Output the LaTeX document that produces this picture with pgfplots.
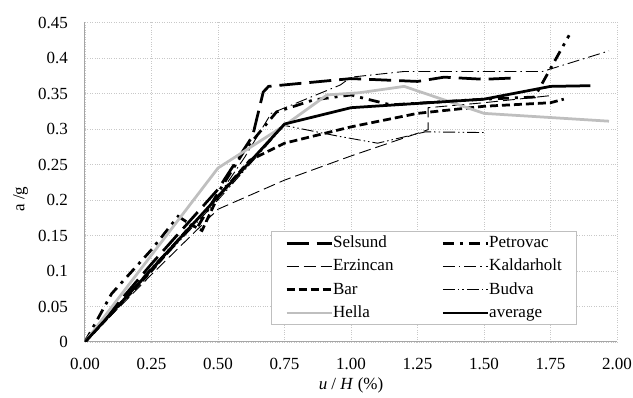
\documentclass[border=0pt]{standalone}
\usepackage{fontspec}
\setmainfont{Liberation Serif}
\usepackage{pgfplots}
\pgfplotsset{compat=1.18}
\definecolor{hellagray}{RGB}{191,191,191}
\definecolor{gridgray}{RGB}{200,200,200}
\definecolor{axisgray}{RGB}{166,166,166}
\begin{document}
\fontsize{17}{20}\selectfont
\begin{tikzpicture}
\begin{axis}[
  at={(0pt,0pt)}, anchor=south west,
  scale only axis, width=532pt, height=319.5pt,
  xmin=0, xmax=2, ymin=0, ymax=0.45,
  axis x line*=bottom, axis y line*=left,
  axis line style={-, draw=axisgray, line width=1pt},
  xtick={0,0.25,0.5,0.75,1,1.25,1.5,1.75,2},
  xticklabels={0.00,0.25,0.50,0.75,1.00,1.25,1.50,1.75,2.00},
  ytick={0,0.05,0.1,0.15,0.2,0.25,0.3,0.35,0.4,0.45},
  yticklabels={0,0.05,0.1,0.15,0.2,0.25,0.3,0.35,0.4,0.45},
  major tick length=0pt, tick style={draw=none},
  tick label style={inner sep=0pt},
  yticklabel style={anchor=east, xshift=-17pt},
  xticklabel style={anchor=north, yshift=-16pt},
  grid=major,
  major grid style={dotted, draw=gridgray, line width=0.8pt},
  xlabel={\textit{u} / \textit{H} (\%)},
  ylabel={a /g},
  xlabel style={at={(axis description cs:0.5,0)}, anchor=center, yshift=-43.5pt, inner sep=0pt},
  ylabel style={at={(axis description cs:-0.121,0.447)}, anchor=center, inner sep=0pt},
  legend columns=2,
  legend cell align=left,
  legend image code/.code={\draw[#1] (0pt,0pt) -- (45pt,0pt);},
  legend style={at={(axis cs:0.699,0.024)}, anchor=south west,
    draw=hellagray, line width=0.8pt, fill=white,
    inner xsep=14pt, inner ysep=3pt, row sep=6.3pt,
    nodes={inner sep=0pt, text height=13pt, text depth=4pt},
    /tikz/every even column/.append style={column sep=48pt}},
]
% Selsund
\addplot[black, line width=2.75pt, dash pattern=on 22pt off 8pt] coordinates {
(0,0) (0.25,0.11) (0.5,0.215) (0.63,0.29) (0.67,0.352) (0.69,0.36) (1.0,0.371) (1.25,0.367) (1.35,0.373) (1.5,0.37) (1.62,0.372)};
\addlegendentry{Selsund}
% Petrovac
\addplot[black, line width=2.75pt, dash pattern=on 11pt off 6pt on 3pt off 6pt] coordinates {
(0,0) (0.1,0.068) (0.25,0.13) (0.35,0.177) (0.42,0.16) (0.5,0.21) (0.6,0.27) (0.72,0.324) (0.86,0.341) (1.0,0.348) (1.05,0.343) (1.15,0.334) (1.5,0.342) (1.69,0.345) (1.82,0.432)};
\addlegendentry{Petrovac}
% Erzincan
\addplot[black, line width=0.9pt, dash pattern=on 12pt off 5pt] coordinates {
(0,0) (0.25,0.095) (0.5,0.187) (0.75,0.228) (1.0,0.262) (1.29,0.299) (1.29,0.33) (1.5,0.337) (1.75,0.347)};
\addlegendentry{Erzincan}
% Kaldarholt
\addplot[black, line width=0.9pt, dash pattern=on 12pt off 4pt on 1.5pt off 4pt] coordinates {
(0,0) (0.25,0.105) (0.5,0.205) (0.6,0.26) (0.7,0.322) (0.96,0.362) (1.0,0.373) (1.2,0.381) (1.72,0.381) (1.97,0.41)};
\addlegendentry{Kaldarholt}
% Bar
\addplot[black, line width=2.75pt, dash pattern=on 8pt off 4pt] coordinates {
(0,0) (0.25,0.1) (0.4,0.165) (0.44,0.157) (0.5,0.205) (0.62,0.256) (0.75,0.28) (1.0,0.303) (1.25,0.322) (1.5,0.332) (1.75,0.337) (1.8,0.342)};
\addlegendentry{Bar}
% Budva
\addplot[black, line width=0.9pt, dash pattern=on 12pt off 3pt on 1.5pt off 3pt on 1.5pt off 3pt] coordinates {
(0,0) (0.25,0.1) (0.5,0.2) (0.75,0.305) (0.95,0.29) (1.1,0.28) (1.28,0.296) (1.5,0.295)};
\addlegendentry{Budva}
% Hella
\addplot[hellagray, line width=2.75pt] coordinates {
(0,0) (0.5,0.245) (0.75,0.305) (0.91,0.348) (1.03,0.351) (1.2,0.36) (1.5,0.322) (1.97,0.311)};
\addlegendentry{Hella}
% average
\addplot[black, line width=2.75pt] coordinates {
(0,0) (0.75,0.307) (1.0,0.33) (1.5,0.342) (1.75,0.36) (1.9,0.361)};
\addlegendentry{average}
\end{axis}
\pgfresetboundingbox
\path[use as bounding box] (-85pt,-56pt) rectangle (548pt,342pt);
\end{tikzpicture}
\end{document}
